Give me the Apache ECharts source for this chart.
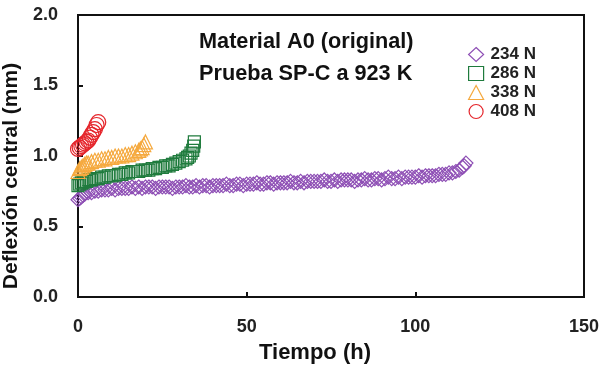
<!DOCTYPE html>
<html><head><meta charset="utf-8">
<script src="https://cdn.jsdelivr.net/npm/echarts@6/dist/echarts.min.js"></script>
<style>html,body{margin:0;padding:0;background:#fff}#c{width:600px;height:367px}</style>
</head><body><div id="c"></div>
<script>
const xTicks = [0, 50, 100, 150];
const yTicks = [0.0, 0.5, 1.0, 1.5, 2.0];
const seriesNames = ['234 N', '286 N', '338 N', '408 N'];
const data234 = [[0,.69],[0.5,.70],[1,.71],[1.5,.72],[2,.73],[3,.74],[4,.74],[5,.75],[6,.75],[7,.76],[8,.76],[9,.76],[10,.77],[11,.76],[12,.77],[13,.77],[14,.77],[15,.77],[16,.78],[17,.77],[18,.78],[19,.77],[20,.78],[21,.78],[22,.78],[23,.77],[24,.78],[25,.78],[26,.78],[27,.78],[28,.77],[29,.78],[30,.78],[31,.78],[32,.79],[33,.78],[34,.78],[35,.79],[36,.78],[37,.79],[38,.79],[39,.78],[40,.79],[41,.79],[42,.79],[43,.79],[44,.80],[45,.79],[46,.79],[47,.80],[48,.80],[49,.79],[50,.80],[51,.80],[52,.80],[53,.81],[54,.80],[55,.80],[56,.81],[57,.81],[58,.80],[59,.81],[60,.81],[61,.81],[62,.81],[63,.82],[64,.81],[65,.81],[66,.82],[67,.81],[68,.82],[69,.82],[70,.82],[71,.82],[72,.82],[73,.83],[74,.82],[75,.82],[76,.83],[77,.82],[78,.83],[79,.83],[80,.83],[81,.83],[82,.82],[83,.83],[84,.83],[85,.84],[86,.83],[87,.83],[88,.84],[89,.84],[90,.83],[91,.84],[92,.85],[93,.84],[94,.84],[95,.85],[96,.84],[97,.85],[98,.85],[99,.85],[100,.85],[101,.86],[102,.85],[103,.86],[104,.86],[105,.86],[106,.86],[107,.87],[108,.87],[109,.87],[110,.88],[111,.88],[112,.89],[113,.90],[114,.92],[114.5,.93],[115,.95]];
const data286 = [[0,.79],[0.5,.80],[1,.81],[1.5,.81],[2,.82],[2.5,.82],[3,.83],[3.5,.83],[4,.83],[5,.84],[6,.84],[7,.85],[8,.85],[9,.86],[10,.86],[11,.86],[12,.87],[13,.87],[14,.88],[15,.88],[16,.89],[17,.89],[18,.89],[19,.90],[20,.90],[21,.90],[22,.91],[23,.91],[24,.92],[25,.92],[26,.93],[27,.93],[28,.94],[29,.95],[30,.96],[31,.97],[32,.98],[32.5,.99],[33,1.00],[33.5,1.02],[34,1.04],[34.3,1.07],[34.5,1.10]];
const data338 = [[0,.89],[0.5,.91],[1,.92],[1.5,.93],[2,.94],[2.5,.95],[3,.95],[4,.96],[5,.97],[6,.97],[7,.98],[8,.98],[9,.99],[10,.99],[11,1.00],[12,1.00],[13,1.00],[14,1.01],[15,1.01],[16,1.02],[17,1.03],[18,1.04],[18.5,1.05],[19,1.06],[19.5,1.08],[20,1.10]];
const data408 = [[0,1.05],[0.5,1.06],[1,1.07],[1.5,1.08],[2,1.09],[2.5,1.10],[3,1.11],[3.5,1.13],[4,1.15],[4.5,1.17],[5,1.19],[5.5,1.22],[6,1.24]];
const annotation1 = 'Material A0 (original)';
const annotation2 = 'Prueba SP-C a 923 K';

const colors = ['#8e4fb5', '#1f7b3d', '#f5a93e', '#e5262c'];
const symbols = ['diamond', 'rect', 'triangle', 'circle'];
const sizes = [14, 12, 14, 15];
const datasets = [data234, data286, data338, data408];
const font = 'Liberation Sans, Arial, Helvetica, sans-serif';

const chart = echarts.init(document.getElementById('c'));
chart.setOption({
  animation: false,
  backgroundColor: '#fff',
  grid: { left: 78, right: 16, top: 15, bottom: 70, containLabel: false, outerBoundsMode: 'none', show: true, borderColor: '#111', borderWidth: 2, backgroundColor: 'transparent' },
  xAxis: {
    type: 'value', min: xTicks[0], max: xTicks[xTicks.length-1], interval: 50,
    name: 'Tiempo (h)', nameLocation: 'middle', nameGap: 45,
    nameTextStyle: { fontFamily: font, fontWeight: 'bold', fontSize: 22, color: '#111', padding: [0, 32, 0, 0] },
    axisLine: { show: true, lineStyle: { color: '#111', width: 2 } },
    axisTick: { show: true, inside: true, length: 5, lineStyle: { color: '#111', width: 2 } },
    axisLabel: { margin: 21, fontFamily: font, fontWeight: 'bold', fontSize: 18, color: '#222' },
    splitLine: { show: false }
  },
  yAxis: {
    type: 'value', min: yTicks[0], max: yTicks[yTicks.length-1], interval: 0.5,
    name: 'Deflexión central (mm)', nameLocation: 'middle', nameGap: 47,
    nameTextStyle: { fontFamily: font, fontWeight: 'bold', fontSize: 21, color: '#111', padding: [0, 40, 0, 0] },
    axisLine: { show: true, lineStyle: { color: '#111', width: 2 } },
    axisTick: { show: true, inside: true, length: 5, lineStyle: { color: '#111', width: 2 } },
    axisLabel: { margin: 20, fontFamily: font, fontWeight: 'bold', fontSize: 18, color: '#222', formatter: v => v.toFixed(1) },
    splitLine: { show: false }
  },
  legend: {
    orient: 'vertical', left: 463, top: 41, itemGap: 2, itemWidth: 15, itemHeight: 14,
    textStyle: { fontFamily: font, fontWeight: 'bold', fontSize: 17, color: '#222', padding: [0,0,0,2] },
    data: seriesNames.map((n, i) => ({ name: n, icon: symbols[i], itemStyle: { color: 'transparent', borderColor: colors[i], borderWidth: 1.2 } }))
  },
  graphic: [
    { type: 'text', left: 199, top: 31, style: { text: annotation1, fontFamily: font, fontWeight: 'bold', fontSize: 21.7, fill: '#111' } },
    { type: 'text', left: 199, top: 63, style: { text: annotation2, fontFamily: font, fontWeight: 'bold', fontSize: 21.7, fill: '#111' } }
  ],
  series: seriesNames.map((n, i) => ({
    name: n, type: 'scatter', data: datasets[i], symbol: symbols[i], symbolSize: sizes[i],
    itemStyle: { color: 'transparent', borderColor: colors[i], borderWidth: 1.2, opacity: 1 },
    emphasis: { disabled: true }, clip: false
  }))
});
</script></body></html>
